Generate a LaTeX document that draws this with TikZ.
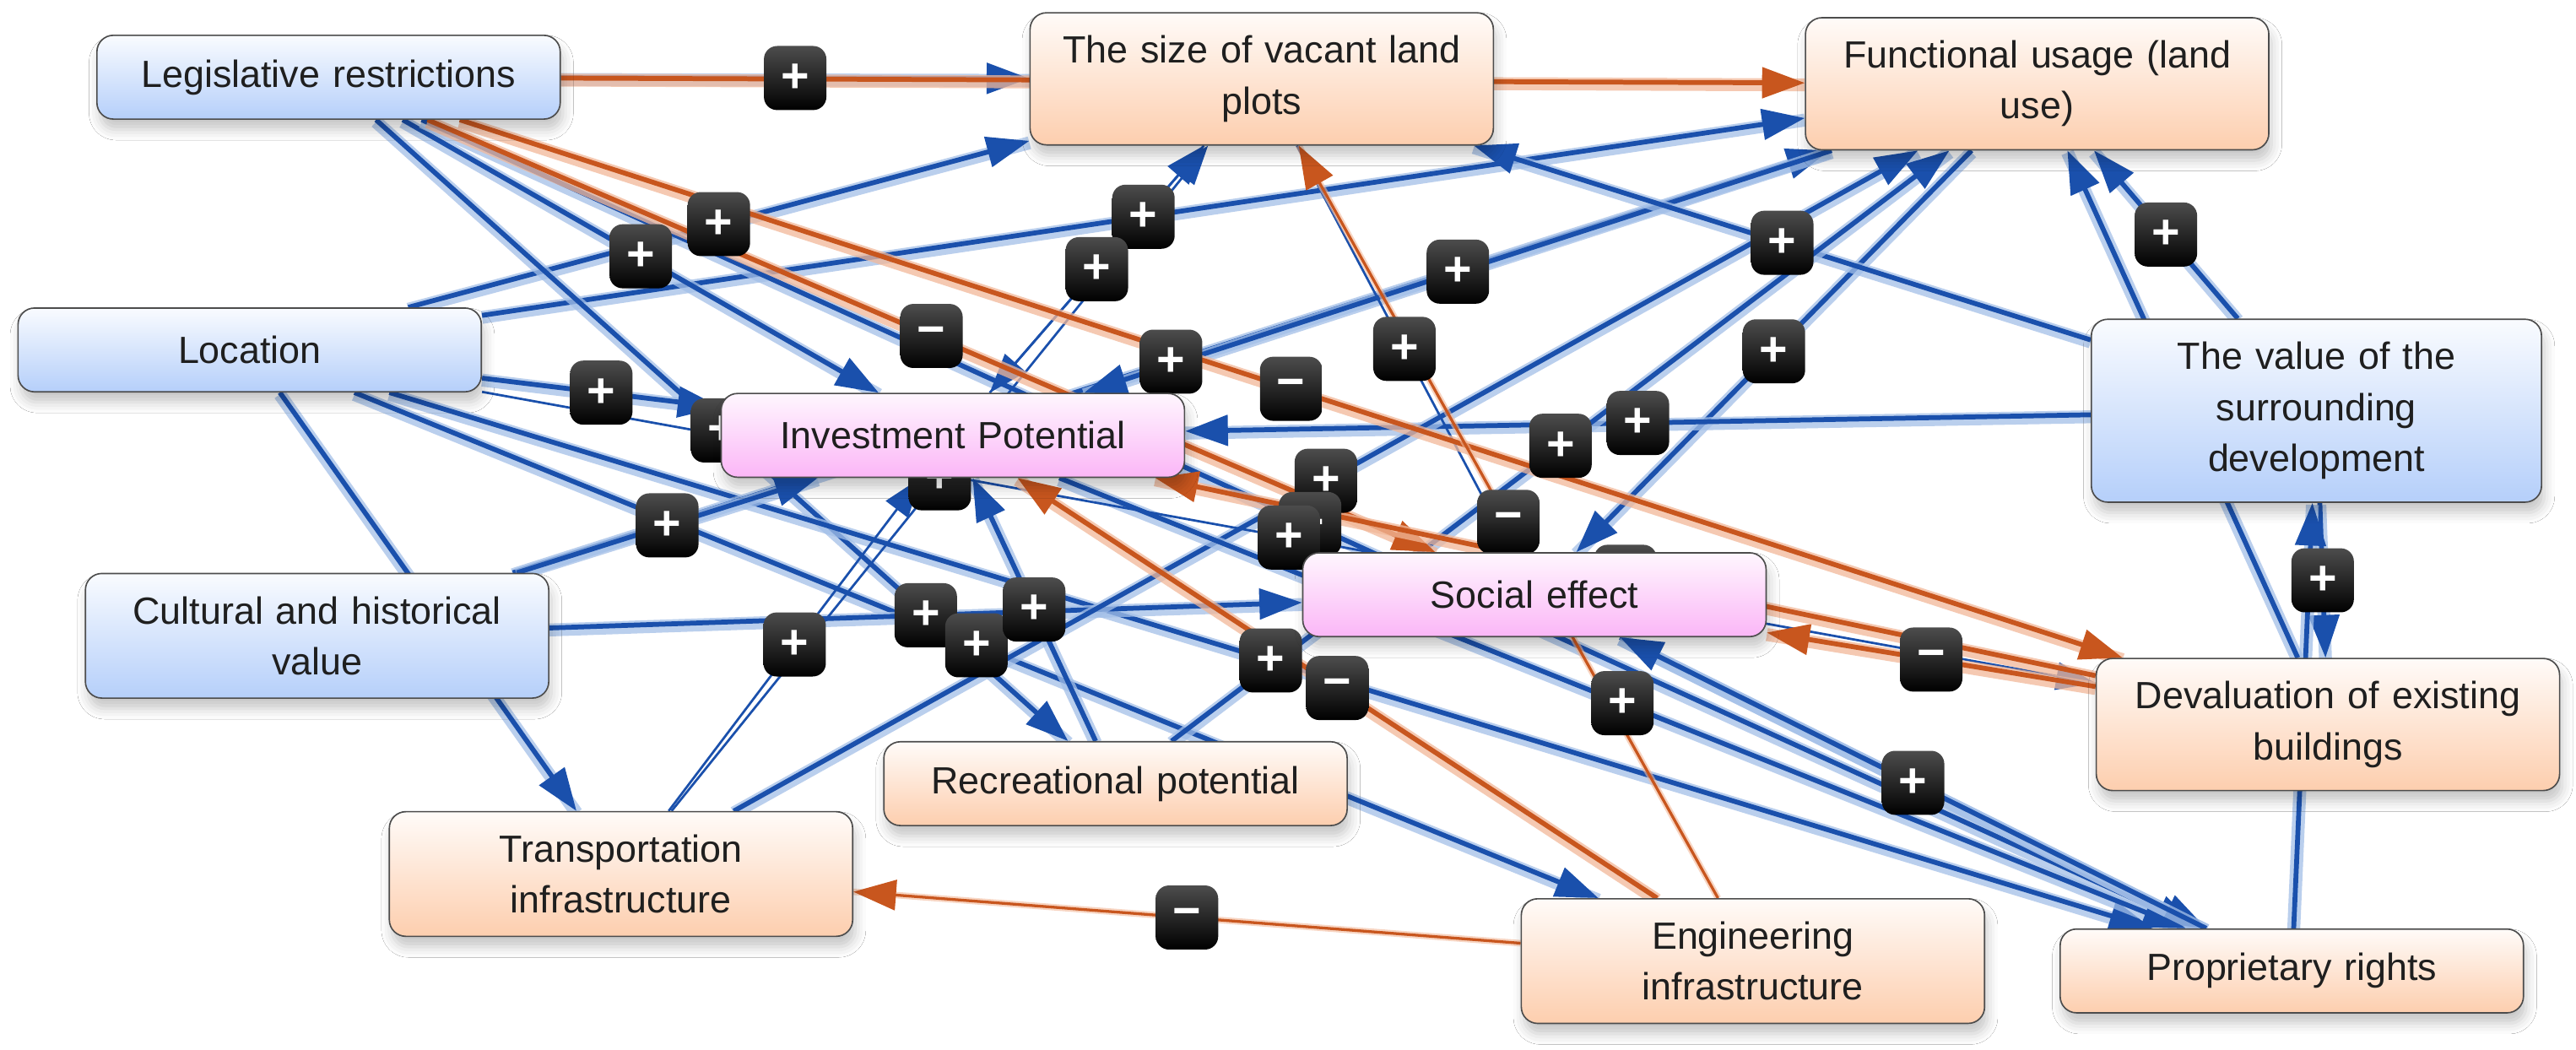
\documentclass[tikz,border=0pt]{standalone}
\usepackage{fontspec}
\setmainfont{Liberation Sans}
\usetikzlibrary{arrows.meta,shadows.blur}
\definecolor{skyend}{HTML}{B5CFFA}
\definecolor{peachend}{HTML}{FDCEAE}
\definecolor{rosyend}{HTML}{FBB6F7}
\definecolor{linkblue}{HTML}{1A50AC}
\definecolor{linkhalo}{HTML}{A3BFE8}
\definecolor{linkrust}{HTML}{C8561E}
\definecolor{rusthalo}{HTML}{F2B899}
\pgfdeclarelayer{links}
\pgfsetlayers{links,main}
\tikzset{
  factor/.style={draw=black!70, line width=0.6pt, rounded corners=2.5mm,
    text width=66mm, align=center, inner xsep=2.25mm, inner ysep=3.5mm,
    minimum height=12.75mm, text=black!88, font=\fontsize{16.4}{22}\selectfont,
    blur shadow={shadow xshift=0.4mm, shadow yshift=-1.6mm, shadow opacity=22, shadow blur radius=1.6mm}},
  driver/.style={factor, top color=skyend!8, bottom color=skyend},
  outcome/.style={factor, top color=peachend!8, bottom color=peachend},
  effect/.style={factor, top color=rosyend!12, bottom color=rosyend},
  bluelink/.style={linkblue, line width=2.1pt, -{Triangle[length=6.5mm,width=4.6mm]},
    preaction={draw=linkhalo, line width=5.6pt, draw opacity=0.75, -, transform canvas={yshift=-0.3mm}}},
  thinblue/.style={linkblue, line width=1pt, -{Triangle[length=6mm,width=4.2mm]}},
  rustlink/.style={linkrust, line width=2.1pt, -{Triangle[length=6.5mm,width=4.6mm]},
    preaction={draw=rusthalo, line width=5.6pt, draw opacity=0.75, -, transform canvas={yshift=-0.3mm}}},
  thinrust/.style={linkrust, line width=1.2pt, -{Triangle[length=6.5mm,width=4.6mm]},
    preaction={draw=rusthalo, line width=2.8pt, draw opacity=0.6, -}},
  sign/.style={rounded corners=2mm, top color=black!70, bottom color=black, text=white,
    font=\fontsize{21}{21}\selectfont\bfseries, minimum width=9.5mm, minimum height=9.75mm, inner sep=0pt}
}
\begin{document}
\begin{tikzpicture}[x=0.25mm,y=0.25mm]
  \useasboundingbox (0,0) rectangle (1568,-639);
  % factors
  \node[driver] (lr) at (200,-47) {Legislative restrictions};
  \node[outcome] (vl) at (768,-48) {The size of vacant land\\plots};
  \node[outcome] (fu) at (1240,-51) {Functional usage (land\\use)};
  \node[driver] (loc) at (152,-213) {Location};
  \node[effect] (ip) at (580,-265) {Investment Potential};
  \node[driver, text width=64mm] (vs) at (1410,-250) {The value of the\\surrounding\\development};
  \node[driver] (ch) at (193,-387) {Cultural and historical\\value};
  \node[effect] (se) at (934,-362) {Social effect};
  \node[outcome] (db) at (1417,-441) {Devaluation of existing\\buildings};
  \node[outcome] (rp) at (679,-477) {Recreational potential};
  \node[outcome] (ti) at (378,-532) {Transportation\\infrastructure};
  \node[outcome] (ei) at (1067,-585) {Engineering\\infrastructure};
  \node[outcome] (pr) at (1395,-591) {Proprietary rights};
  \begin{pgfonlayer}{links}
  \fill[white] (0,0) rectangle (1568,-639);
  % positive links
  \foreach \src/\dst in {lr/vl, loc/vl, loc/fu, lr/ip, lr/rp, lr/pr, loc/ip, loc/ti, loc/ei,
      loc/pr, ch/fu, ch/ip, ch/se, fu/ip, fu/se, vs/vl, vs/fu, vs/ip, vs/db, pr/vs, db/fu,
      ti/fu, rp/fu, rp/ip, ip/pr, se/pr, pr/se}
    \draw[bluelink] (\src) -- (\dst);
  \foreach \src/\dst in {ip/vl, vl/ip, ti/ip, ti/vl, vl/se, loc/db}
    \draw[thinblue] (\src) -- (\dst);
  % negative links
  \foreach \src/\dst in {lr/fu, lr/se, lr/db, db/se, db/ip, ei/ip}
    \draw[rustlink] (\src) -- (\dst);
  \foreach \src/\dst in {ei/vl, ei/ti}
    \draw[thinrust] (\src) -- (\dst);
  % polarity tags at mid link
  \foreach \src/\dst/\sg in {lr/vl/+, loc/vl/+, lr/ip/+, loc/fu/+, ip/vl/+, lr/se/−, ch/fu/+,
      fu/ip/+, vl/se/+, lr/db/−, vs/vl/+, fu/se/+, vs/fu/+, loc/ip/+, lr/rp/+, ti/vl/+,
      rp/fu/+, vs/ip/+, ti/fu/+, lr/pr/+, loc/db/+, ei/vl/−, ch/ip/+, ti/ip/+, ch/se/+,
      loc/ei/+, rp/ip/+, loc/pr/+, ei/ip/−, ip/pr/+, db/se/−, se/pr/+, vs/db/+, ei/ti/−, db/ip/−}
    \path (\src) -- node[sign]{\sg} (\dst);
  \end{pgfonlayer}
\end{tikzpicture}
\end{document}
